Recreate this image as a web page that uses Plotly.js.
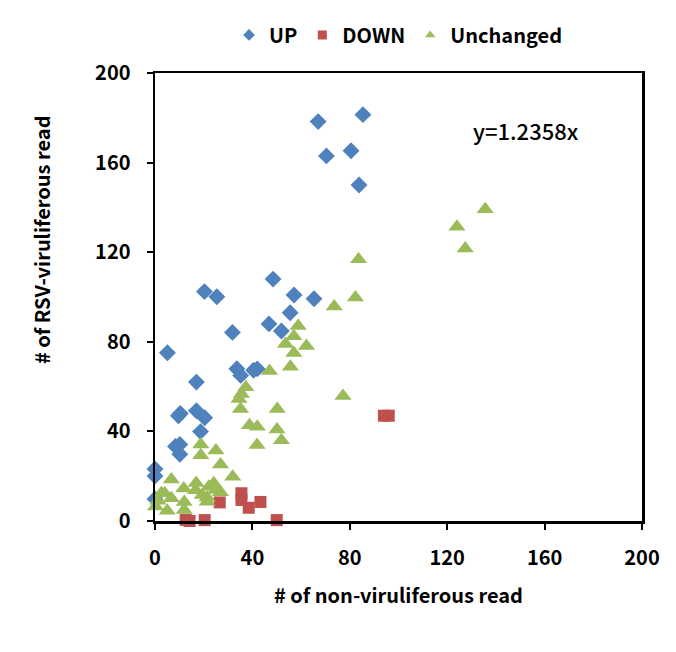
<!DOCTYPE html>
<html><head><meta charset="utf-8">
<script src="https://cdn.plot.ly/plotly-3.0.1.min.js"></script>
<style>html,body{margin:0;padding:0;background:#fff}</style>
</head><body>
<div id="chart" style="width:676px;height:652px"></div>
<script>
const upX = [67,85.4,70.4,80.5,83.8,48.5,20.3,25.4,57.1,65.3,55.5,46.8,51.9,31.8,5.1,33.6,35.2,40.5,42,17,17,9.6,10.4,20.4,18.7,8.4,10.2,10.2,0,0,0];
const upY = [178.3,181.4,163,165.3,150,108,102.4,100.1,100.9,99.2,93,88,84.8,84.2,75.1,68,65,67.3,67.9,62,49.2,47,48,46.1,39.9,33.3,34.2,29.8,23.2,20.1,9.8];
const downX = [94,96,35.5,35.5,26.6,38.5,43.3,12.6,14.2,20.4,50];
const downY = [47,47,12.4,9.4,8.3,5.9,8.5,0.5,0,0.4,0.4];
const unchX = [135.6,124,127.4,83.6,82.3,73.6,58.8,57,53.6,62.2,57,55.6,47,37.3,35.5,34.5,35.1,77.2,50.2,38.8,42,50.1,51.9,41.9,18.8,18.8,25,26.9,31.9,6.7,11.8,16.9,16.7,22.1,24.1,24.8,26.9,2.6,4,6.7,1.2,0.2,5,12,12,19.4,21.4,21.4];
const unchY = [139.2,131.4,121.7,116.8,99.8,95.8,87,82.5,79,78.1,75,68.9,67,59.7,56.7,54.5,50,55.8,50,42.7,42.1,40.9,36,33.9,34.2,29.4,31.5,25.2,19.7,18.5,14.5,17,13.7,15.3,16.8,13.8,12.8,12.4,12.4,10.2,9,6.5,4.6,8.5,4.9,11.6,10.5,8.6];
const seriesNames = ["UP","DOWN","Unchanged"];
const tickVals = [0,40,80,120,160,200];
const eqText = "y=1.2358x";
const xTitle = "# of non-viruliferous read";
const yTitle = "# of RSV-viruliferous read";

const font = "'Noto Sans CJK KR', 'Open Sans', sans-serif";
const colors = ['#4F81BD','#C0504D','#9BBB59'];
const symbols = ['diamond','square','triangle-up'];
const sizes = [13,12,15];
const xs = [upX,downX,unchX], ys = [upY,downY,unchY];
const traces = [];
for (let i=0;i<3;i++){
  traces.push({x:xs[i],y:ys[i],name:seriesNames[i],mode:'markers',type:'scatter',cliponaxis:false,
    showlegend:false,marker:{symbol:symbols[i],size:sizes[i],color:colors[i]}});
}
for (let i=0;i<3;i++){
  traces.push({x:[null],y:[null],name:seriesNames[i],mode:'markers',type:'scatter',
    showlegend:true,marker:{symbol:symbols[i],size:9,color:colors[i]}});
}
const axisCommon = {range:[0,200],tickvals:tickVals,ticks:'outside',ticklen:6,tickwidth:2,tickcolor:'#000',
  showline:true,mirror:true,linewidth:2.5,linecolor:'#000',showgrid:false,zeroline:false,
  tickfont:{family:font,size:20,color:'#000',weight:'bold'}};
const layout = {
  width:676,height:652,
  margin:{l:155,r:34,t:73,b:131,autoexpand:false},
  paper_bgcolor:'#fff',plot_bgcolor:'#fff',
  showlegend:true,
  legend:{orientation:'h',x:0.5,xanchor:'center',y:1.085,yanchor:'middle',
    font:{family:font,size:20,color:'#000',weight:'bold'},itemwidth:30,tracegroupgap:0},
  xaxis:Object.assign({},axisCommon,{ticklabelstandoff:11,
    title:{text:xTitle,standoff:20,font:{family:font,size:20,color:'#000',weight:'bold'}}}),
  yaxis:Object.assign({},axisCommon,{ticklabelstandoff:12}),
  annotations:[
    {x:152.4,y:174.6,xref:'x',yref:'y',text:eqText,showarrow:false,
     font:{family:font,size:22,color:'#000',weight:500}},
    {x:42,y:240,xref:'paper',yref:'paper',text:yTitle,showarrow:false,textangle:-90,
     font:{family:font,size:20,color:'#000',weight:'bold'}}
  ]
};
const plotH = 652-73-131, plotW = 676-155-34;
layout.annotations[1].x = (42-155)/plotW;
layout.annotations[1].y = (521-240)/plotH;
layout.annotations[1].xanchor = 'center';
layout.annotations[1].yanchor = 'middle';
Plotly.newPlot('chart',traces,layout,{displayModeBar:false,staticPlot:true});
</script>
</body></html>
